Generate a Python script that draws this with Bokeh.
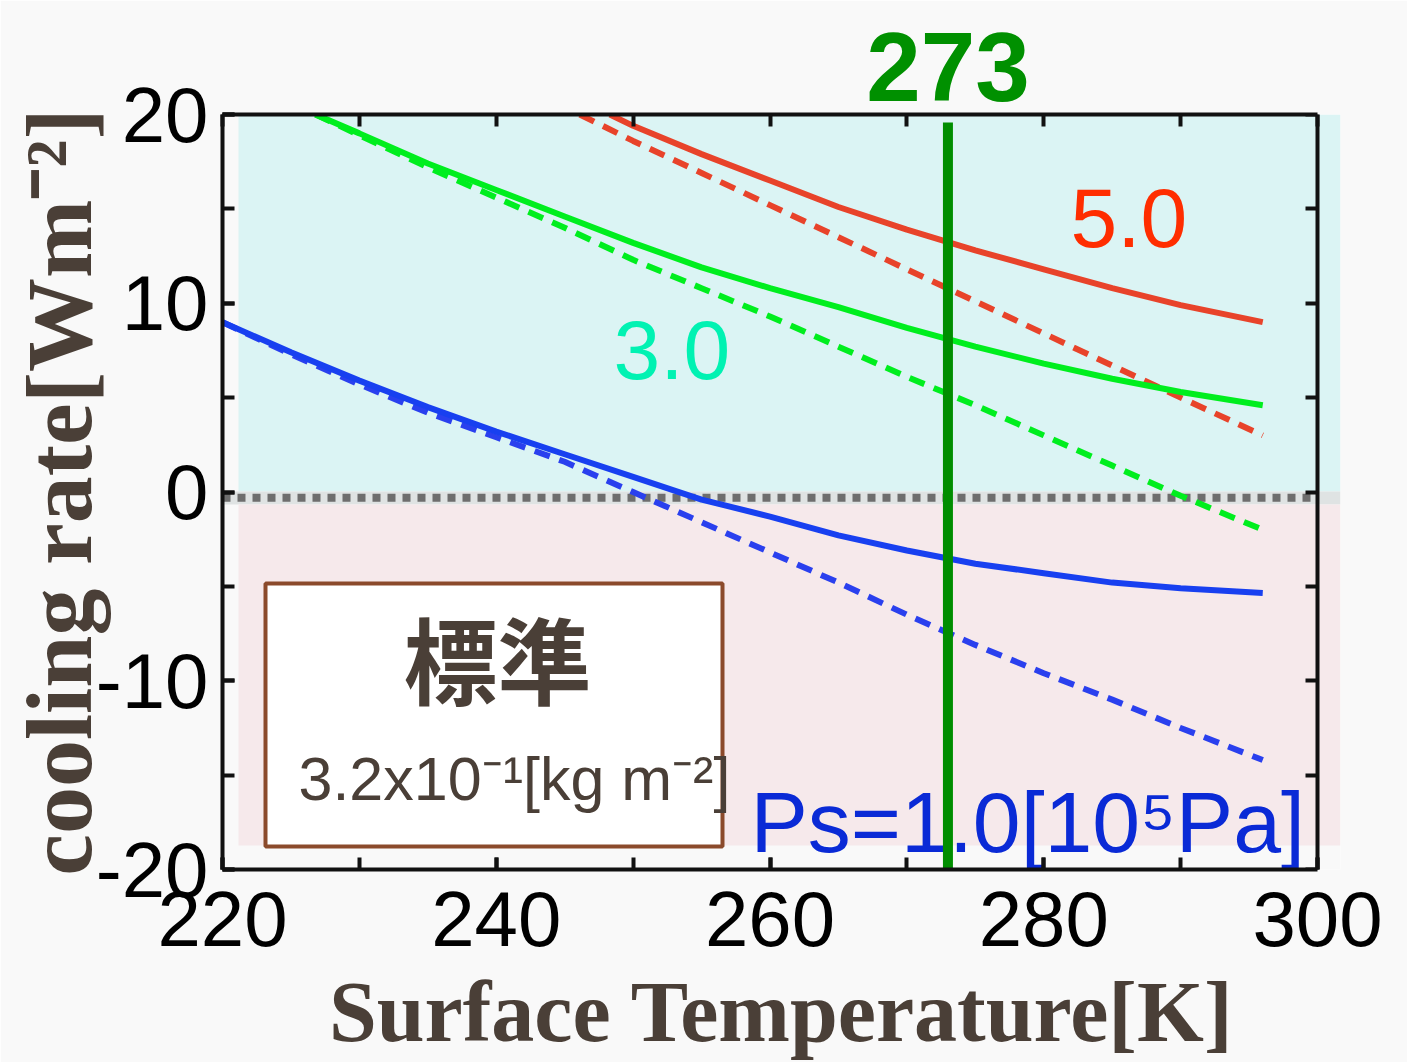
from bokeh.plotting import figure
from bokeh.models import Range1d, LinearAxis, BoxAnnotation, Label, FixedTicker
from bokeh.embed import file_html
from bokeh.resources import INLINE
from bokeh.core.properties import value

# ---------------- data ----------------
temp_red_solid = [248.3, 250, 255, 260, 265, 270, 275, 280, 285, 290, 296]
rate_red_solid = [20.0, 19.4, 17.9, 16.5, 15.1, 13.9, 12.8, 11.8, 10.8, 9.9, 9.0]
temp_red_dash = [246.1, 250, 255, 260, 265, 270, 275, 280, 285, 290, 296]
rate_red_dash = [20.0, 18.6, 16.9, 15.2, 13.5, 11.8, 10.1, 8.4, 6.7, 5.0, 3.0]
temp_green = [226.8, 230, 235, 240, 245, 250, 255, 260, 265, 270, 275, 280, 285, 290, 296]
rate_green_solid = [20.0, 19.0, 17.4, 16.0, 14.6, 13.2, 11.9, 10.8, 9.8, 8.7, 7.7, 6.8, 6.0, 5.3, 4.6]
rate_green_dash = [20.0, 18.9, 17.2, 15.6, 14.0, 12.3, 10.8, 9.3, 7.7, 6.1, 4.6, 3.0, 1.4, -0.2, -2.0]
temp_blue = [220, 225, 230, 235, 240, 245, 250, 255, 260, 265, 270, 275, 280, 285, 290, 296]
rate_blue_solid = [9.0, 7.4, 5.9, 4.5, 3.2, 2.0, 0.8, -0.4, -1.3, -2.3, -3.1, -3.8, -4.3, -4.8, -5.1, -5.35]
rate_blue_dash = [9.0, 7.3, 5.7, 4.2, 2.9, 1.6, 0.0, -1.6, -3.2, -4.8, -6.5, -8.1, -9.6, -11.0, -12.5, -14.2]
freezing_T = 273
zero_rate = 0
x_ticks = [220, 240, 260, 280, 300]
x_minor = [220, 230, 240, 250, 260, 270, 280, 290, 300]
y_ticks = [-20, -10, 0, 10, 20]
y_minor = [-20, -15, -10, -5, 0, 5, 10, 15, 20]
y_tick_labels = {-20: "-20", -10: "-10", 0: "0", 10: "10", 20: "20"}
label_ps = ["5.0", "3.0", "Ps=1.0[10⁵Pa]"]
box_title = "標準"
box_sub = "3.2x10⁻¹[kg m⁻²]"
x_title = "Surface Temperature[K]"
y_title = "cooling rate[Wm⁻²]"

# ---------------- layout helpers (pixel -> data, for placing annotations) ----------------
X0, X1, Y0, Y1 = 220, 300, -20, 20
AL, AR, AT, AB = 222, 1317, 114, 869      # pixel box of the axes
W, H = 1407, 1062
FR = 1340                                 # frame extends to the shading's right edge


def sx(px):
    return X0 + (px - AL) * (X1 - X0) / (AR - AL)


def sy(py):
    return Y1 - (py - AT) * (Y1 - Y0) / (AB - AT)


p = figure(width=W, height=H, x_range=Range1d(X0, sx(FR)), y_range=Range1d(Y0, Y1),
           output_backend="svg", toolbar_location=None,
           min_border_left=AL, min_border_right=W - FR, min_border_top=AT, min_border_bottom=H - AB,
           background_fill_color="#f9f9f9", border_fill_color="#f9f9f9", outline_line_color=None)
p.grid.visible = False

p.add_layout(LinearAxis(), "right")
p.add_layout(LinearAxis(), "above")

p.below[0].ticker = FixedTicker(ticks=x_ticks, minor_ticks=x_minor)
p.above[0].ticker = FixedTicker(ticks=[freezing_T], minor_ticks=x_minor)
p.left[0].ticker = FixedTicker(ticks=y_ticks, minor_ticks=y_minor)
p.right[0].ticker = FixedTicker(ticks=[], minor_ticks=y_minor)

for ax in list(p.xaxis) + list(p.yaxis):
    ax.axis_line_width = 4
    ax.axis_line_color = "#111111"
    ax.major_tick_in = 12
    ax.major_tick_out = 0
    ax.minor_tick_in = 12
    ax.minor_tick_out = 0
    ax.major_tick_line_width = 4
    ax.minor_tick_line_width = 4
    ax.major_tick_line_color = "#111111"
    ax.minor_tick_line_color = "#111111"
    ax.major_label_text_font = "Liberation Sans"
    ax.major_label_text_font_size = "78px"
    ax.major_label_text_color = "#000000"

for ax in p.xaxis:
    ax.bounds = (X0, X1)
for ax in p.yaxis:
    ax.bounds = (Y0, Y1)
p.right[0].fixed_location = X1

brown = "#4a3f37"

# bottom axis: tick labels + title
xb = p.below[0]
xb.major_label_standoff = 22
xb.axis_label = x_title
xb.axis_label_text_font = "Liberation Serif"
xb.axis_label_text_font_style = "bold"
xb.axis_label_text_font_size = "86px"
xb.axis_label_text_color = brown
xb.axis_label_standoff = 15

# left axis: tick labels + title
yl = p.left[0]
yl.major_label_standoff = 14
yl.major_label_overrides = y_tick_labels
yl.axis_label = y_title
yl.axis_label_text_font = "Liberation Serif"
yl.axis_label_text_font_style = "bold"
yl.axis_label_text_font_size = "94px"
yl.axis_label_text_color = brown
yl.axis_label_standoff = -18

# top axis: only the 273 label
xa = p.above[0]
xa.major_tick_line_color = None
xa.major_label_text_font_size = "98px"
xa.major_label_text_font_style = "bold"
xa.major_label_text_color = "#009000"
xa.major_label_standoff = 14

# ---------------- background shading ----------------
cyan, pink, band = "#dbf4f4", "#f6e9eb", "#dfe3e3"
sh_left, sh_right = sx(238), sx(FR)
p.quad(left=sh_left, right=sh_right, top=Y1, bottom=sy(491), fill_color=cyan, line_color=None)
p.quad(left=sx(AL), right=sh_right, top=sy(491), bottom=sy(504), fill_color=band, line_color=None)
p.quad(left=sh_left, right=sh_right, top=sy(504), bottom=sy(845), fill_color=pink, line_color=None)

# zero line
p.line(x=[X0, X1], y=[zero_rate - 0.3, zero_rate - 0.3], line_color="#6e6e6e", line_width=8, line_dash="8 7")

# ---------------- curves ----------------
red, green, blue, blue_d = "#e8432a", "#00ee1e", "#1840f0", "#2a40ee"
dash = "16 10"
p.line(temp_red_dash, rate_red_dash, line_color=red, line_width=6, line_dash=dash)
p.line(temp_red_solid, rate_red_solid, line_color=red, line_width=6)
p.line(temp_green, rate_green_dash, line_color=green, line_width=6, line_dash=dash)
p.line(temp_green, rate_green_solid, line_color=green, line_width=6)
p.line(temp_blue, rate_blue_dash, line_color=blue_d, line_width=6, line_dash=dash)
p.line(temp_blue, rate_blue_solid, line_color=blue, line_width=6)

# Ps label as a glyph so that the 273 K line draws over it
p.text(x=[sx(750)], y=[sy(821)], text=[label_ps[2]], text_font=value("Liberation Sans"),
       text_font_size="86px", text_color="#0a2ad6", text_baseline="middle", text_align="left")

# 273 K line
p.line(x=[freezing_T, freezing_T], y=[sy(122), Y0 - 1], line_color="#008e00", line_width=10)

# legend box
p.add_layout(BoxAnnotation(left=sx(265), right=sx(722), top=sy(583), bottom=sy(846),
                           fill_color="#ffffff", fill_alpha=1, line_color="#8b4a2b",
                           line_alpha=1, line_width=4))
p.add_layout(Label(x=sx(497), y=sy(656), text=box_title, text_font="Noto Sans CJK JP",
                   text_font_style="bold", text_font_size="94px", text_color=brown,
                   text_align="center", text_baseline="middle"))
p.add_layout(Label(x=sx(298), y=sy(778), text=box_sub, text_font="Liberation Sans",
                   text_font_size="61px", text_color=brown, text_align="left", text_baseline="middle"))

p.add_layout(Label(x=sx(1070), y=sy(217), text=label_ps[0], text_font="Liberation Sans",
                   text_font_size="84px", text_color="#ff2d00", text_align="left", text_baseline="middle"))
p.add_layout(Label(x=sx(613), y=sy(349), text=label_ps[1], text_font="Liberation Sans",
                   text_font_size="84px", text_color="#00f2b2", text_align="left", text_baseline="middle"))

open("out.html", "w").write(file_html(p, INLINE))
